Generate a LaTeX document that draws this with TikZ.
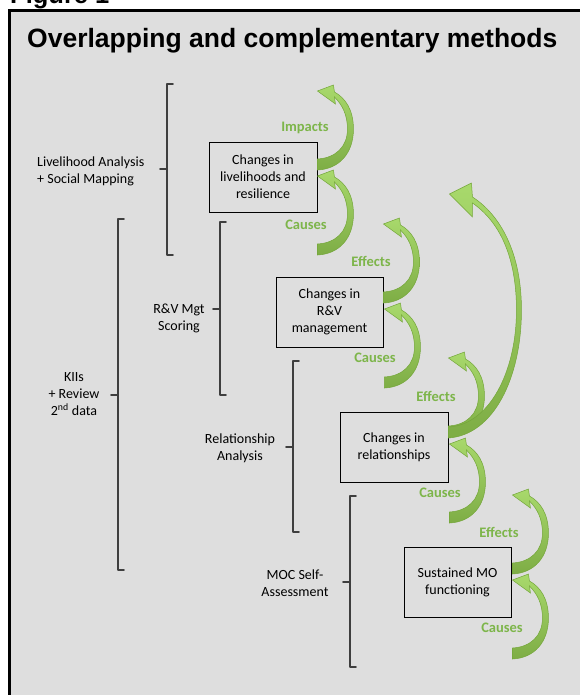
\documentclass[tikz,border=0pt]{standalone}
\usepackage{fontspec}
\setmainfont{Carlito}
\newfontfamily\arialfont{Liberation Sans}
\usetikzlibrary{calc,shadows}
\definecolor{bgray}{HTML}{DEDEDE}
\definecolor{lgreen}{HTML}{A8D96C}
\definecolor{dgreen}{HTML}{7EAD45}
\definecolor{edgegreen}{HTML}{74A63A}
\definecolor{labgreen}{HTML}{7DB54A}
\definecolor{brkgray}{HTML}{3E3E3E}
\tikzset{
  box/.style={draw=black, line width=0.9pt, fill=bgray, minimum height=70pt, align=center,
    inner sep=2pt, font=\fontsize{14}{17}\selectfont,
    drop shadow={shadow xshift=1.2pt, shadow yshift=-1.2pt, opacity=0.25, fill=black}},
  side/.style={font=\fontsize{14}{17}\selectfont, inner sep=0pt, align=center},
  lab/.style={font=\bfseries\fontsize{14.5}{17}\selectfont, text=labgreen, inner sep=0pt},
  brk/.style={draw=brkgray, line width=1.8pt, line cap=round, line join=round},
  ribbon/.style={top color=lgreen, bottom color=dgreen, draw=edgegreen, line width=0.5pt},
  smallarrow/.pic={
    \shade[ribbon]
      (0,5) .. controls (22,4) and (36,-12) .. (36,-36)
      .. controls (36,-55) and (28,-67) .. (17,-73)
      -- (16,-80) -- (0,-74) -- (18,-61) -- (17,-68)
      .. controls (25,-60) and (30,-50) .. (30,-36)
      .. controls (30,-18) and (18,-7) .. (0,-6) -- cycle;
  },
  bigarrow/.pic={
    \shade[ribbon]
      (0,5) .. controls (45,2) and (73,-55) .. (73,-123)
      .. controls (73,-180) and (52,-218) .. (24,-236)
      -- (23,-250) -- (1,-239) -- (24,-216) -- (24,-230)
      .. controls (50,-212) and (68,-178) .. (68,-123)
      .. controls (68,-60) and (40,-8) .. (0,-6) -- cycle;
  }
}
\newcommand\mybrk[4]{%
  \draw[brk] (#1+6,#2) -- (#1,#2) -- (#1,#3) -- (#1+6,#3);
  \draw[brk] (#1,#4) -- (#1-7,#4);}
\begin{document}
\begin{tikzpicture}[x=1pt,y=-1pt]
\useasboundingbox (0,0) rectangle (579,695);
\node[anchor=base west, font=\arialfont\bfseries\fontsize{25.5}{30}\selectfont, inner sep=0pt] (fig) at (10,3.5) {Figure 1};
\fill[bgray] (9,10.5) rectangle (600,720);
\draw[line width=3pt] (9,720) -- (9,10.5) -- (600,10.5);
\node[anchor=base west, font=\arialfont\bfseries\fontsize{26.5}{31}\selectfont, inner sep=0pt] (title) at (27,48) {Overlapping and complementary methods};

% method labels
\node[side, anchor=west, align=left] (liv) at (37,171) {Livelihood Analysis\\+ Social Mapping};
\node[side] (kii) at (74,394) {KIIs\\+ Review\\2\textsuperscript{nd} data};
\node[side] (rv) at (179,318) {R\&V Mgt\\Scoring};
\node[side] (rel) at (240,448) {Relationship\\Analysis};
\node[side] (moc) at (295,583) {MOC Self-\\Assessment};

% brackets
\mybrk{167}{84}{255}{169}
\mybrk{118}{219}{570}{395}
\mybrk{220}{222}{395}{309}
\mybrk{293}{361}{532}{447}
\mybrk{350}{496}{667}{582}

% boxes
\node[box, minimum width=108pt] (b1) at (263,177) {Changes in\\livelihoods and\\resilience};
\node[box, minimum width=107pt] (b2) at (329.5,312) {Changes in\\R\&V\\management};
\node[box, minimum width=108pt] (b3) at (394,447) {Changes in\\relationships};
\node[box, minimum width=107pt] (b4) at (457.5,582) {Sustained MO\\functioning};

% arrows
\pic at ($(b1.east)+(0,-12)$) {smallarrow};
\pic at ($(b1.east)+(0,73)$) {smallarrow};
\pic at ($(b2.east)+(0,-14)$) {smallarrow};
\pic at ($(b2.east)+(1,71)$) {smallarrow};
\pic at ($(b3.east)+(0,-15)$) {smallarrow};
\pic at ($(b3.east)+(0,-14)$) {bigarrow};
\pic at ($(b3.east)+(1,71)$) {smallarrow};
\pic at ($(b4.east)+(1,-13)$) {smallarrow};
\pic at ($(b4.east)+(1,72)$) {smallarrow};

% arrow labels
\node[lab] (l1) at (305,128) {Impacts};
\node[lab] (l2) at (306,225) {Causes};
\node[lab] (l3) at (371,261) {Effects};
\node[lab] (l4) at (375,358) {Causes};
\node[lab] (l5) at (436,396) {Effects};
\node[lab] (l6) at (440,493) {Causes};
\node[lab] (l7) at (499,532) {Effects};
\node[lab] (l8) at (502,628) {Causes};
\end{tikzpicture}
\end{document}
